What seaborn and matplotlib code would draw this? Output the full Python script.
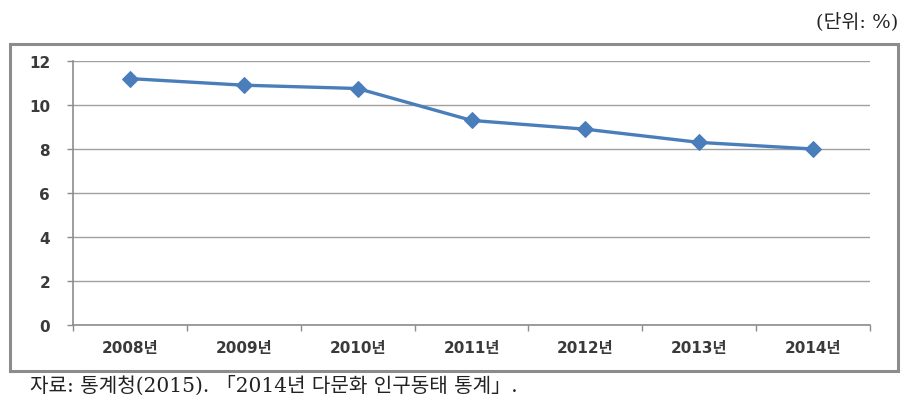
import matplotlib
matplotlib.use("Agg")
import matplotlib.pyplot as plt
import seaborn as sns
import pandas as pd
import numpy as np
from matplotlib.patches import Rectangle

years = ["2008년", "2009년", "2010년", "2011년", "2012년", "2013년", "2014년"]
values = [11.2, 10.9, 10.75, 9.3, 8.9, 8.3, 8.0]
y_ticks = [0, 2, 4, 6, 8, 10, 12]
unit_text = "(단위: %)"
source_text = "자료: 통계청(2015). 「2014년 다문화 인구동태 통계」."

sns.set_theme(style="white")
plt.rcParams['font.family'] = ['DejaVu Sans', 'Noto Sans CJK KR']
tick_family = ['DejaVu Sans', 'Noto Sans CJK KR']
serif_family = ['DejaVu Serif', 'Noto Sans CJK KR']

df = pd.DataFrame({"year": years, "value": values})

fig = plt.figure(figsize=(9.15, 4.14), dpi=100)
W, H = 915, 414
fig.patches.append(Rectangle((10 / W, 1 - 372 / H), 888 / W, 327 / H,
                             transform=fig.transFigure, fill=False,
                             edgecolor="#8c8c8c", linewidth=2.2, zorder=0))

ax = fig.add_axes([73 / W, 1 - 326 / H, 797 / W, 264 / H])
sns.lineplot(data=df, x="year", y="value", ax=ax, color="#4a7ebb",
             linewidth=2.4, marker="D", markersize=8, markeredgecolor="#4a7ebb",
             sort=False)

ax.set_ylim(0, 12)
ax.set_yticks(y_ticks)
ax.set_yticklabels([str(v) for v in y_ticks], fontsize=11, fontweight="bold",
                   color="#3a3a3a", family=tick_family)
ax.grid(axis="y", color="#a0a0a0", linewidth=1)
ax.set_axisbelow(True)

n = len(years)
ax.set_xlim(-0.5, n - 0.5)
ax.set_xticks(np.arange(-0.5, n, 1.0))
ax.set_xticklabels([])
ax.set_xticks(np.arange(n), minor=True)
ax.set_xticklabels(years, minor=True, fontsize=11, fontweight="bold",
                   color="#3a3a3a", family=tick_family)
ax.tick_params(axis="x", which="major", direction="out", length=4.5, color="#8c8c8c", width=1, bottom=True)
ax.tick_params(axis="x", which="minor", length=0, pad=11)
ax.tick_params(axis="y", direction="out", length=4.5, color="#8c8c8c", width=1, left=True, pad=12)

for s in ["top", "right"]:
    ax.spines[s].set_visible(False)
for s in ["left", "bottom"]:
    ax.spines[s].set_color("#8c8c8c")
    ax.spines[s].set_linewidth(1.2)
ax.set_xlabel("")
ax.set_ylabel("")

fig.text(898 / W, 1 - 22 / H, unit_text, ha="right", va="center", fontsize=14,
         color="#222222", family=serif_family)
fig.text(30 / W, 1 - 386 / H, source_text, ha="left", va="center", fontsize=14.5,
         color="#222222", family=serif_family)

fig.savefig("out.png", dpi=100)
